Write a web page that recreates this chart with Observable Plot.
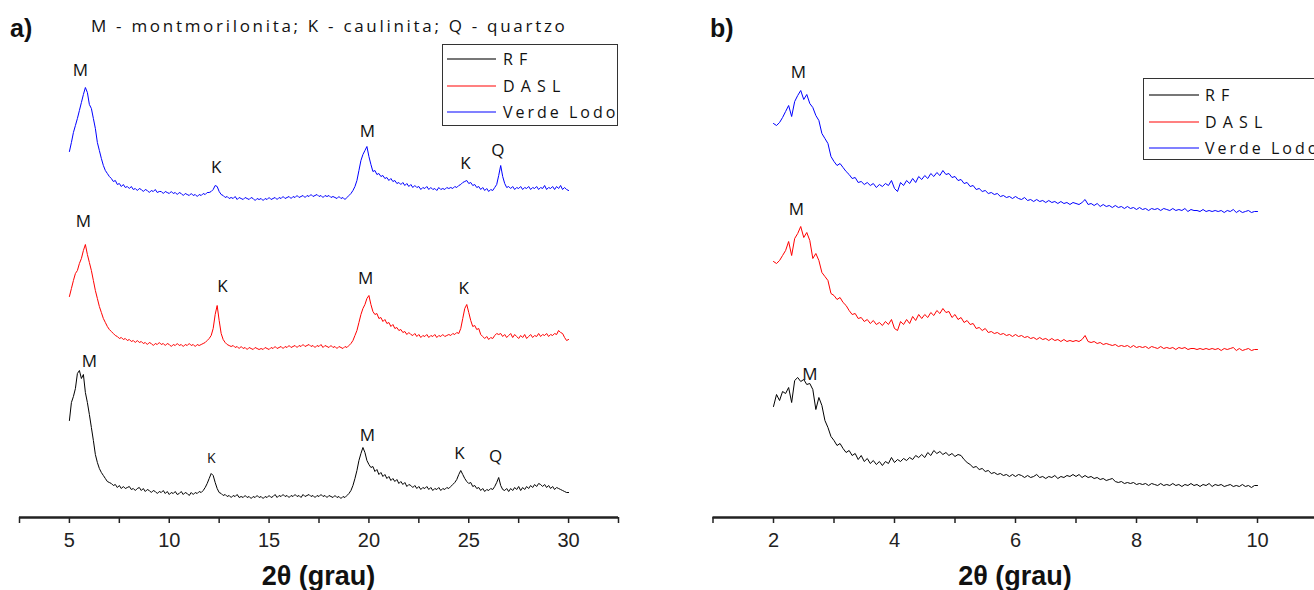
<!DOCTYPE html>
<html><head><meta charset="utf-8">
<script src="https://cdn.jsdelivr.net/npm/d3@7"></script>
<script src="https://cdn.jsdelivr.net/npm/@observablehq/plot@0.6"></script>
<style>
html,body{margin:0;padding:0;background:#fff;}
body{width:1314px;height:590px;overflow:hidden;position:relative;font-family:"Open Sans",sans-serif;color:#111;}
.panel{position:absolute;top:0;height:590px;}
.panel svg{max-width:none !important;}
.plabel{position:absolute;font-family:"Liberation Sans",Arial,sans-serif;font-weight:bold;font-size:25px;line-height:1;}
.header{position:absolute;font-family:"Open Sans",sans-serif;font-size:17px;letter-spacing:2.7px;line-height:1;white-space:nowrap;}
.xtitle{position:absolute;font-family:"Liberation Sans",Arial,sans-serif;font-weight:bold;font-size:27px;line-height:1;white-space:nowrap;transform:translate(-50%,-50%);}
.legend{position:absolute;border:1.3px solid #333;background:#fff;box-sizing:border-box;}
.lline{position:absolute;height:0;border-top:2px solid;}
.ltext{position:absolute;font-family:"Open Sans",sans-serif;font-size:16px;letter-spacing:3px;line-height:1;white-space:nowrap;transform:translateY(-50%);}
</style></head>
<body>
<div id="pa" class="panel" style="left:0;width:660px"></div>
<div id="pb" class="panel" style="left:660px;width:680px"></div>
<script>
// ---------- Data ----------
// Panel a) 2θ from 5 to 30 in steps of 0.1 (intensity, a.u.)
const scanA = {start: 5, step: 0.1};
const rfA = [
80,98,104,112,127,130,122,126,108,98,
86,73,60,46,38,32,28,25,22,19,
18,17,15,16,13,15,12,14,12,13,
14,11,12,10,12,13,10,12,9,11,
10,8,10,9,7,9,8,10,7,9,
6,8,7,9,6,7,9,6,8,7,
5,8,6,8,7,9,8,10,13,17,
22,27,25,18,12,8,7,5,6,4,
5,3,5,4,6,3,4,3,5,3,
4,2,4,3,5,3,4,2,4,3,
5,3,4,6,3,5,4,6,4,5,
3,5,4,6,4,5,3,6,4,5,
6,4,5,3,5,4,6,4,5,3,
5,4,3,5,3,4,2,4,3,5,
7,10,15,22,30,40,47,53,48,40,
36,33,34,29,31,26,28,24,26,22,
24,20,22,19,21,17,19,16,18,14,
16,15,13,15,12,14,11,13,12,14,
11,13,10,12,11,13,10,12,11,13,
12,14,16,18,21,26,30,26,22,19,
17,18,14,15,12,13,10,12,9,11,
10,12,11,14,18,23,15,11,10,12,
9,12,10,13,11,14,10,13,11,14,
12,15,13,16,14,17,16,14,16,13,
15,12,14,11,13,12,11,10,9,8,
8];
const daslA = [
54,62,70,77,80,87,92,100,106,96,
88,80,70,60,52,44,38,32,28,24,
21,19,17,15,14,12,13,11,12,10,
11,9,10,8,10,8,9,7,8,6,
8,7,5,7,6,8,6,7,5,7,
6,4,6,5,7,5,6,4,6,5,
7,5,6,4,6,5,6,7,8,10,
12,15,22,36,45,30,17,11,8,6,
5,4,5,3,4,2,4,2,3,1,
3,2,1,3,2,1,2,1,3,2,
1,3,2,4,2,3,4,2,4,3,
5,3,4,5,3,5,4,6,4,5,
6,4,5,3,5,4,6,3,5,4,
3,5,3,4,2,4,3,2,4,3,
5,7,10,15,20,28,36,42,46,52,
55,46,39,36,37,32,33,29,31,27,
28,24,26,22,23,20,21,18,19,16,
18,16,15,17,14,16,13,15,14,16,
13,15,14,16,13,15,14,16,14,15,
16,15,17,16,18,17,22,32,42,46,
38,30,24,25,21,22,16,14,12,14,
11,13,12,15,17,16,17,14,16,13,
15,17,13,16,14,12,15,13,16,12,
14,16,13,15,14,17,14,16,15,17,
14,16,15,17,16,20,18,17,13,10,
11];
const verdeA = [
49,58,68,75,82,90,98,106,113,108,
96,92,82,72,58,50,42,35,30,27,
24,22,19,20,16,17,14,16,13,14,
12,14,11,12,10,12,11,9,11,10,
8,10,9,11,8,9,9,7,9,8,
7,9,7,8,6,8,7,5,7,6,
5,7,5,6,4,6,5,7,6,8,
8,9,11,15,14,9,6,5,3,4,
2,3,2,4,1,3,2,1,3,2,
1,3,2,0,2,1,2,0,2,1,
3,1,2,3,1,3,2,4,2,3,
4,2,4,3,5,3,4,5,3,5,
4,6,4,5,6,4,5,3,5,4,
5,3,4,3,2,4,2,3,1,3,
5,7,10,14,20,30,40,46,50,54,
44,36,29,30,26,27,24,25,22,23,
20,22,19,20,17,18,16,18,15,17,
14,16,13,15,13,14,11,13,12,14,
11,13,11,12,10,13,11,12,11,13,
12,13,12,14,13,15,16,18,19,20,
17,18,15,16,13,14,11,13,10,12,
9,11,10,13,16,25,35,24,17,13,
14,12,14,11,13,12,14,11,13,12,
14,11,13,12,14,11,13,12,15,11,
13,12,14,11,14,12,15,11,13,11,
10];

// Panel b) 2θ from 2 to 10 in steps of 0.05 (intensity, a.u.)
const scanB = {start: 2, step: 0.05};
const rfB = [
82,94,88,97,95,101,86,108,111,107,109,104,105,99,79,91,83,68,61,52,
48,43,45,40,36,38,33,35,29,33,27,30,25,28,24,27,23,27,25,31,
26,29,27,30,28,31,29,33,31,34,31,36,33,38,35,37,34,36,33,35,
32,34,33,29,26,24,21,22,19,20,17,18,15,16,14,15,13,14,12,14,
12,14,13,11,13,11,12,14,11,12,10,12,11,13,10,12,11,13,12,14,
12,14,11,13,11,12,10,11,9,10,8,9,10,7,6,7,5,6,5,6,
4,5,4,5,3,5,4,3,5,3,4,3,5,3,4,2,4,3,5,3,
4,2,4,3,5,2,4,3,4,2,3,4,2,3,2,4,2,3,1,3,
3];
const daslB = [
89,87,90,95,100,109,95,112,117,124,113,118,110,92,97,90,78,74,70,57,
55,51,53,48,45,40,36,37,32,33,29,31,27,30,26,28,25,29,26,31,
22,20,29,26,31,27,34,30,36,32,36,33,38,35,40,37,42,38,39,33,
36,31,33,28,30,26,27,22,23,20,22,18,19,17,18,16,17,15,16,14,
16,14,15,13,14,12,13,11,13,11,12,10,12,10,11,9,11,9,10,9,
10,9,11,15,9,8,9,7,8,6,7,6,5,6,4,5,4,5,3,5,
3,4,3,4,2,4,3,2,4,2,3,2,3,1,3,2,3,1,2,2,
1,2,1,2,1,2,1,2,0,2,1,2,3,0,2,0,1,2,0,1,
1];
const verdeB = [
90,88,91,96,102,108,97,112,118,123,114,119,110,106,98,93,80,75,70,57,
52,48,50,46,42,39,35,36,31,32,29,31,28,30,26,29,27,30,28,33,
25,22,31,28,33,30,35,31,37,34,38,35,40,37,41,38,43,39,40,36,
37,33,34,30,31,27,28,24,25,22,23,20,21,19,20,17,18,16,17,15,
17,15,14,16,13,14,12,14,12,13,11,13,11,12,10,12,10,11,9,11,
10,9,11,14,9,10,8,10,7,9,7,8,6,8,6,7,5,7,5,6,
4,6,4,5,3,5,4,5,3,5,4,3,5,3,4,3,5,2,4,3,
3,2,4,2,3,2,3,2,3,1,3,2,4,1,3,1,2,3,1,2,
2];

const seriesNames = ["R F", "D A S L", "Verde Lodo"];
const seriesColors = ["#000000", "#ff0000", "#0000ff"];
const legendColors = ["#777777", "#ff8080", "#8080ff"];

const ticksA = [5, 10, 15, 20, 25, 30];
const minorA = [2.5, 7.5, 12.5, 17.5, 22.5, 27.5, 32.5];
const ticksB = [2, 4, 6, 8, 10];
const minorB = [1, 3, 5, 7, 9, 11];

// Peak labels: series index, 2θ, label, intensity above that series' baseline
const peaksA_series = [2, 2, 2, 2, 2, 1, 1, 1, 1, 0, 0, 0, 0, 0];
const peaksA_theta  = [5.55, 12.35, 19.92, 24.84, 26.46, 5.7, 12.67, 19.83, 24.75, 6.0, 12.1, 19.92, 24.54, 26.34];
const peaksA_text   = ["M", "K", "M", "K", "Q", "M", "K", "M", "K", "M", "K", "M", "K", "Q"];
const peaksA_height = [130, 33, 69, 37, 50, 129, 64, 72, 62, 139, 42, 65, 47, 44];
const peaksB_series = [2, 1, 0];
const peaksB_theta  = [2.41, 2.38, 2.6];
const peaksB_text   = ["M", "M", "M"];
const peaksB_height = [141, 141, 114];

const headerText = "M - montmorilonita; K - caulinita; Q - quartzo";
const axisTitle = "2θ (grau)";

// ---------- Layout constants ----------
const offsetsA = [17, 167, 317];   // vertical stacking of the traces
const offsetsB = [29, 167, 304];
const yMax = 517;

function toRows(vals, scan, offset) {
  return vals.map((v, i) => ({theta: scan.start + i * scan.step, value: v + offset}));
}

function buildPanel(cfg) {
  const lines = cfg.series.map((vals, k) =>
    Plot.line(toRows(vals, cfg.scan, cfg.offsets[k]), {x: "theta", y: "value", stroke: seriesColors[k], strokeWidth: 1, strokeLinejoin: "round"}));
  const peaks = cfg.peakText.map((t, i) => ({
    theta: cfg.peakTheta[i], value: cfg.peakHeight[i] + cfg.offsets[cfg.peakSeries[i]], text: t,
    size: (cfg.small && cfg.small.includes(i)) ? 14 : 17
  }));
  return Plot.plot({
    width: cfg.width, height: 590,
    marginLeft: cfg.marginLeft, marginRight: cfg.marginRight, marginTop: 0, marginBottom: 590 - yMax,
    x: {domain: cfg.domain},
    y: {domain: [0, yMax], axis: null},
    style: {fontFamily: "'Liberation Sans', Arial, sans-serif", fontSize: "20px", color: "#222", background: "transparent", overflow: "visible", maxWidth: "none"},
    marks: [
      ...lines,
      Plot.text(peaks.filter(d => d.size === 17), {x: "theta", y: "value", text: "text", fontSize: 17, fontFamily: "'Open Sans', sans-serif", fill: "#111"}),
      Plot.text(peaks.filter(d => d.size === 14), {x: "theta", y: "value", text: "text", fontSize: 14, fontFamily: "'Open Sans', sans-serif", fill: "#111"}),
      Plot.axisX({ticks: cfg.minor, tickSize: 6, tickFormat: () => "", label: null, strokeWidth: 1.5, stroke: "#222"}),
      Plot.axisX({ticks: cfg.ticks, tickSize: 6, tickPadding: 9, tickFormat: d => String(d), label: null, strokeWidth: 1.5, stroke: "#222", fill: "#222"}),
      Plot.ruleY([0], {stroke: "#222", strokeWidth: 2.5})
    ]
  });
}

const plotA = buildPanel({
  width: 660, marginLeft: 19, marginRight: 42, domain: [2.5, 32.5],
  series: [rfA, daslA, verdeA], scan: scanA, offsets: offsetsA,
  ticks: ticksA, minor: minorA,
  peakSeries: peaksA_series, peakTheta: peaksA_theta, peakText: peaksA_text, peakHeight: peaksA_height, small: [10]
});
document.getElementById("pa").appendChild(plotA);

const plotB = buildPanel({
  width: 680, marginLeft: 52.5, marginRight: 22.5, domain: [1, 11],
  series: [rfB, daslB, verdeB], scan: scanB, offsets: offsetsB,
  ticks: ticksB, minor: minorB,
  peakSeries: peaksB_series, peakTheta: peaksB_theta, peakText: peaksB_text, peakHeight: peaksB_height
});
document.getElementById("pb").appendChild(plotB);

// ---------- Texts and legends ----------
function addDiv(cls, text, style) {
  const d = document.createElement("div");
  d.className = cls; if (text != null) d.textContent = text;
  Object.assign(d.style, style);
  document.body.appendChild(d);
  return d;
}
addDiv("plabel", "a)", {left: "10px", top: "16px"});
addDiv("plabel", "b)", {left: "710px", top: "16px"});
addDiv("header", headerText, {left: "91px", top: "17px"});
addDiv("xtitle", axisTitle, {left: "318.5px", top: "576px"});
addDiv("xtitle", axisTitle, {left: "1015px", top: "576px"});

function addLegend(left, top, width, height, rowYs, lineX0, lineX1, textX) {
  const box = addDiv("legend", null, {left: left + "px", top: top + "px", width: width + "px", height: height + "px"});
  seriesNames.forEach((name, k) => {
    const ln = document.createElement("div");
    ln.className = "lline";
    Object.assign(ln.style, {left: (lineX0 - left) + "px", width: (lineX1 - lineX0) + "px", top: (rowYs[k] - top - 2) + "px", borderTopColor: legendColors[k]});
    box.appendChild(ln);
    const tx = document.createElement("div");
    tx.className = "ltext"; tx.textContent = name;
    Object.assign(tx.style, {left: (textX - left) + "px", top: (rowYs[k] - top - 1) + "px", wordSpacing: k < 2 ? "-4px" : "0px"});
    box.appendChild(tx);
  });
}
addLegend(442, 44, 176, 82, [59, 85.7, 112.3], 446, 495, 502);
addLegend(1143, 78, 200, 82, [95, 121.7, 148.3], 1148, 1198, 1204);
</script>
</body></html>
